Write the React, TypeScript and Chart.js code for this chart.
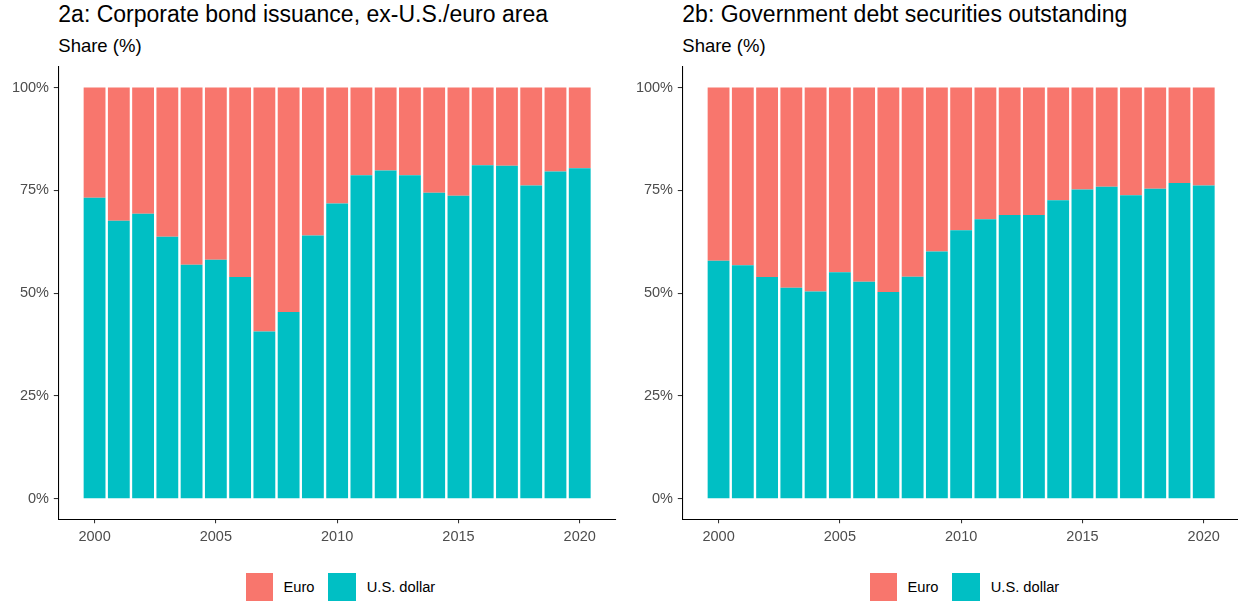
import React, { useEffect, useRef } from "react";
import { Chart, registerables } from "chart.js";

Chart.register(...registerables);

const FONT = "'Liberation Sans', Arial, Helvetica, sans-serif";
Chart.defaults.font.family = FONT;

// ---- data ----
const years = [2000, 2001, 2002, 2003, 2004, 2005, 2006, 2007, 2008, 2009, 2010, 2011, 2012, 2013, 2014, 2015, 2016, 2017, 2018, 2019, 2020];
const xTicks = [2000, 2005, 2010, 2015, 2020];
const yTicks = [0, 25, 50, 75, 100];
const seriesNames = ["Euro", "U.S. dollar"];

// 2a: Corporate bond issuance, ex-U.S./euro area (share, %)
const corpUsd = [73.2, 67.6, 69.3, 63.7, 56.9, 58.1, 53.9, 40.7, 45.4, 64.0, 71.8, 78.7, 79.8, 78.7, 74.4, 73.7, 81.1, 81.0, 76.2, 79.6, 80.4];
const corpEuro = [26.8, 32.4, 30.7, 36.3, 43.1, 41.9, 46.1, 59.3, 54.6, 36.0, 28.2, 21.3, 20.2, 21.3, 25.6, 26.3, 18.9, 19.0, 23.8, 20.4, 19.6];

// 2b: Government debt securities outstanding (share, %)
const govUsd = [57.9, 56.8, 53.9, 51.3, 50.4, 55.1, 52.8, 50.3, 54.0, 60.1, 65.3, 68.0, 69.0, 69.0, 72.6, 75.2, 75.9, 73.8, 75.4, 76.8, 76.2];
const govEuro = [42.1, 43.2, 46.1, 48.7, 49.6, 44.9, 47.2, 49.7, 46.0, 39.9, 34.7, 32.0, 31.0, 31.0, 27.4, 24.8, 24.1, 26.2, 24.6, 23.2, 23.8];

const EURO_COLOR = "#F8766D";
const USD_COLOR = "#00BFC4";

type PanelProps = {
  left: number;
  title: string;
  usd: number[];
  euro: number[];
};

function zeroPad(axis: any) {
  axis.paddingTop = 0;
  axis.paddingBottom = 0;
  axis.paddingLeft = 0;
  axis.paddingRight = 0;
}

function Panel({ left, title, usd, euro }: PanelProps) {
  const ref = useRef<HTMLCanvasElement | null>(null);

  useEffect(() => {
    if (!ref.current) return;
    const chart = new Chart(ref.current, {
      type: "bar",
      data: {
        datasets: [
          {
            label: seriesNames[1],
            data: years.map((y, i) => ({ x: y, y: usd[i] })),
            backgroundColor: USD_COLOR,
            borderWidth: 0,
            barPercentage: 0.9,
            categoryPercentage: 1,
          },
          {
            label: seriesNames[0],
            data: years.map((y, i) => ({ x: y, y: euro[i] })),
            backgroundColor: EURO_COLOR,
            borderWidth: 0,
            barPercentage: 0.9,
            categoryPercentage: 1,
          },
        ],
      } as any,
      options: {
        animation: false,
        responsive: false,
        maintainAspectRatio: false,
        layout: { padding: { top: 7, right: 4, left: 0, bottom: 0 } },
        plugins: {
          legend: { display: false },
          tooltip: { enabled: false },
          title: { display: false },
        },
        scales: {
          x: {
            type: "linear",
            stacked: true,
            min: 1998.505,
            max: 2021.495,
            offset: false,
            afterBuildTicks: (axis: any) => {
              axis.ticks = xTicks.map((v) => ({ value: v }));
            },
            afterFit: (axis: any) => {
              axis.height = 30.7;
              zeroPad(axis);
            },
            grid: {
              display: true,
              offset: false,
              drawOnChartArea: false,
              drawTicks: true,
              tickLength: 4,
              color: "#333333",
              lineWidth: 1.07,
            },
            border: { display: true, color: "#000000", width: 1.07 },
            ticks: {
              padding: 4.6,
              color: "#4D4D4D",
              font: { size: 14.5 },
              maxRotation: 0,
              autoSkip: false,
              callback: (v: any) => String(v),
            },
          },
          y: {
            type: "linear",
            stacked: true,
            min: -5,
            max: 105,
            afterBuildTicks: (axis: any) => {
              axis.ticks = yTicks.map((v) => ({ value: v }));
            },
            afterFit: (axis: any) => {
              axis.width = 58.3;
              zeroPad(axis);
            },
            grid: {
              display: true,
              offset: false,
              drawOnChartArea: false,
              drawTicks: true,
              tickLength: 4.5,
              color: "#333333",
              lineWidth: 1.07,
            },
            border: { display: true, color: "#000000", width: 1.07 },
            ticks: {
              padding: 4.8,
              color: "#4D4D4D",
              font: { size: 14.5 },
              autoSkip: false,
              callback: (v: any) => v + "%",
            },
          },
        },
      } as any,
    });
    return () => chart.destroy();
  }, [usd, euro]);

  const textBase: React.CSSProperties = {
    position: "absolute",
    fontFamily: FONT,
    color: "#000",
    whiteSpace: "nowrap",
    margin: 0,
  };

  const legendItems = [
    { name: seriesNames[0], color: EURO_COLOR, box: 245.5, text: 283.5 },
    { name: seriesNames[1], color: USD_COLOR, box: 328.3, text: 366.7 },
  ];

  return (
    <div style={{ position: "absolute", left, top: 0, width: 620, height: 601 }}>
      <div style={{ ...textBase, left: 58.3, top: 3.3, fontSize: 23, lineHeight: "23px" }}>{title}</div>
      <div style={{ ...textBase, left: 58.3, top: 36.5, fontSize: 18.5, lineHeight: "18.5px" }}>Share (%)</div>
      <canvas
        ref={ref}
        width={620}
        height={490}
        style={{ position: "absolute", left: 0, top: 60, width: 620, height: 490 }}
      />
      {legendItems.map((it) => (
        <React.Fragment key={it.name}>
          <div
            style={{
              position: "absolute",
              left: it.box,
              top: 573,
              width: 27.5,
              height: 28,
              background: it.color,
            }}
          />
          <div
            style={{
              ...textBase,
              left: it.text,
              top: 573,
              height: 28,
              lineHeight: "28px",
              fontSize: 14.7,
            }}
          >
            {it.name}
          </div>
        </React.Fragment>
      ))}
    </div>
  );
}

export default function App() {
  return (
    <div
      style={{
        position: "absolute",
        left: 0,
        top: 0,
        width: 1238,
        height: 601,
        overflow: "hidden",
        background: "#ffffff",
      }}
    >
      <Panel left={0} title="2a: Corporate bond issuance, ex-U.S./euro area" usd={corpUsd} euro={corpEuro} />
      <Panel left={624} title="2b: Government debt securities outstanding" usd={govUsd} euro={govEuro} />
    </div>
  );
}
